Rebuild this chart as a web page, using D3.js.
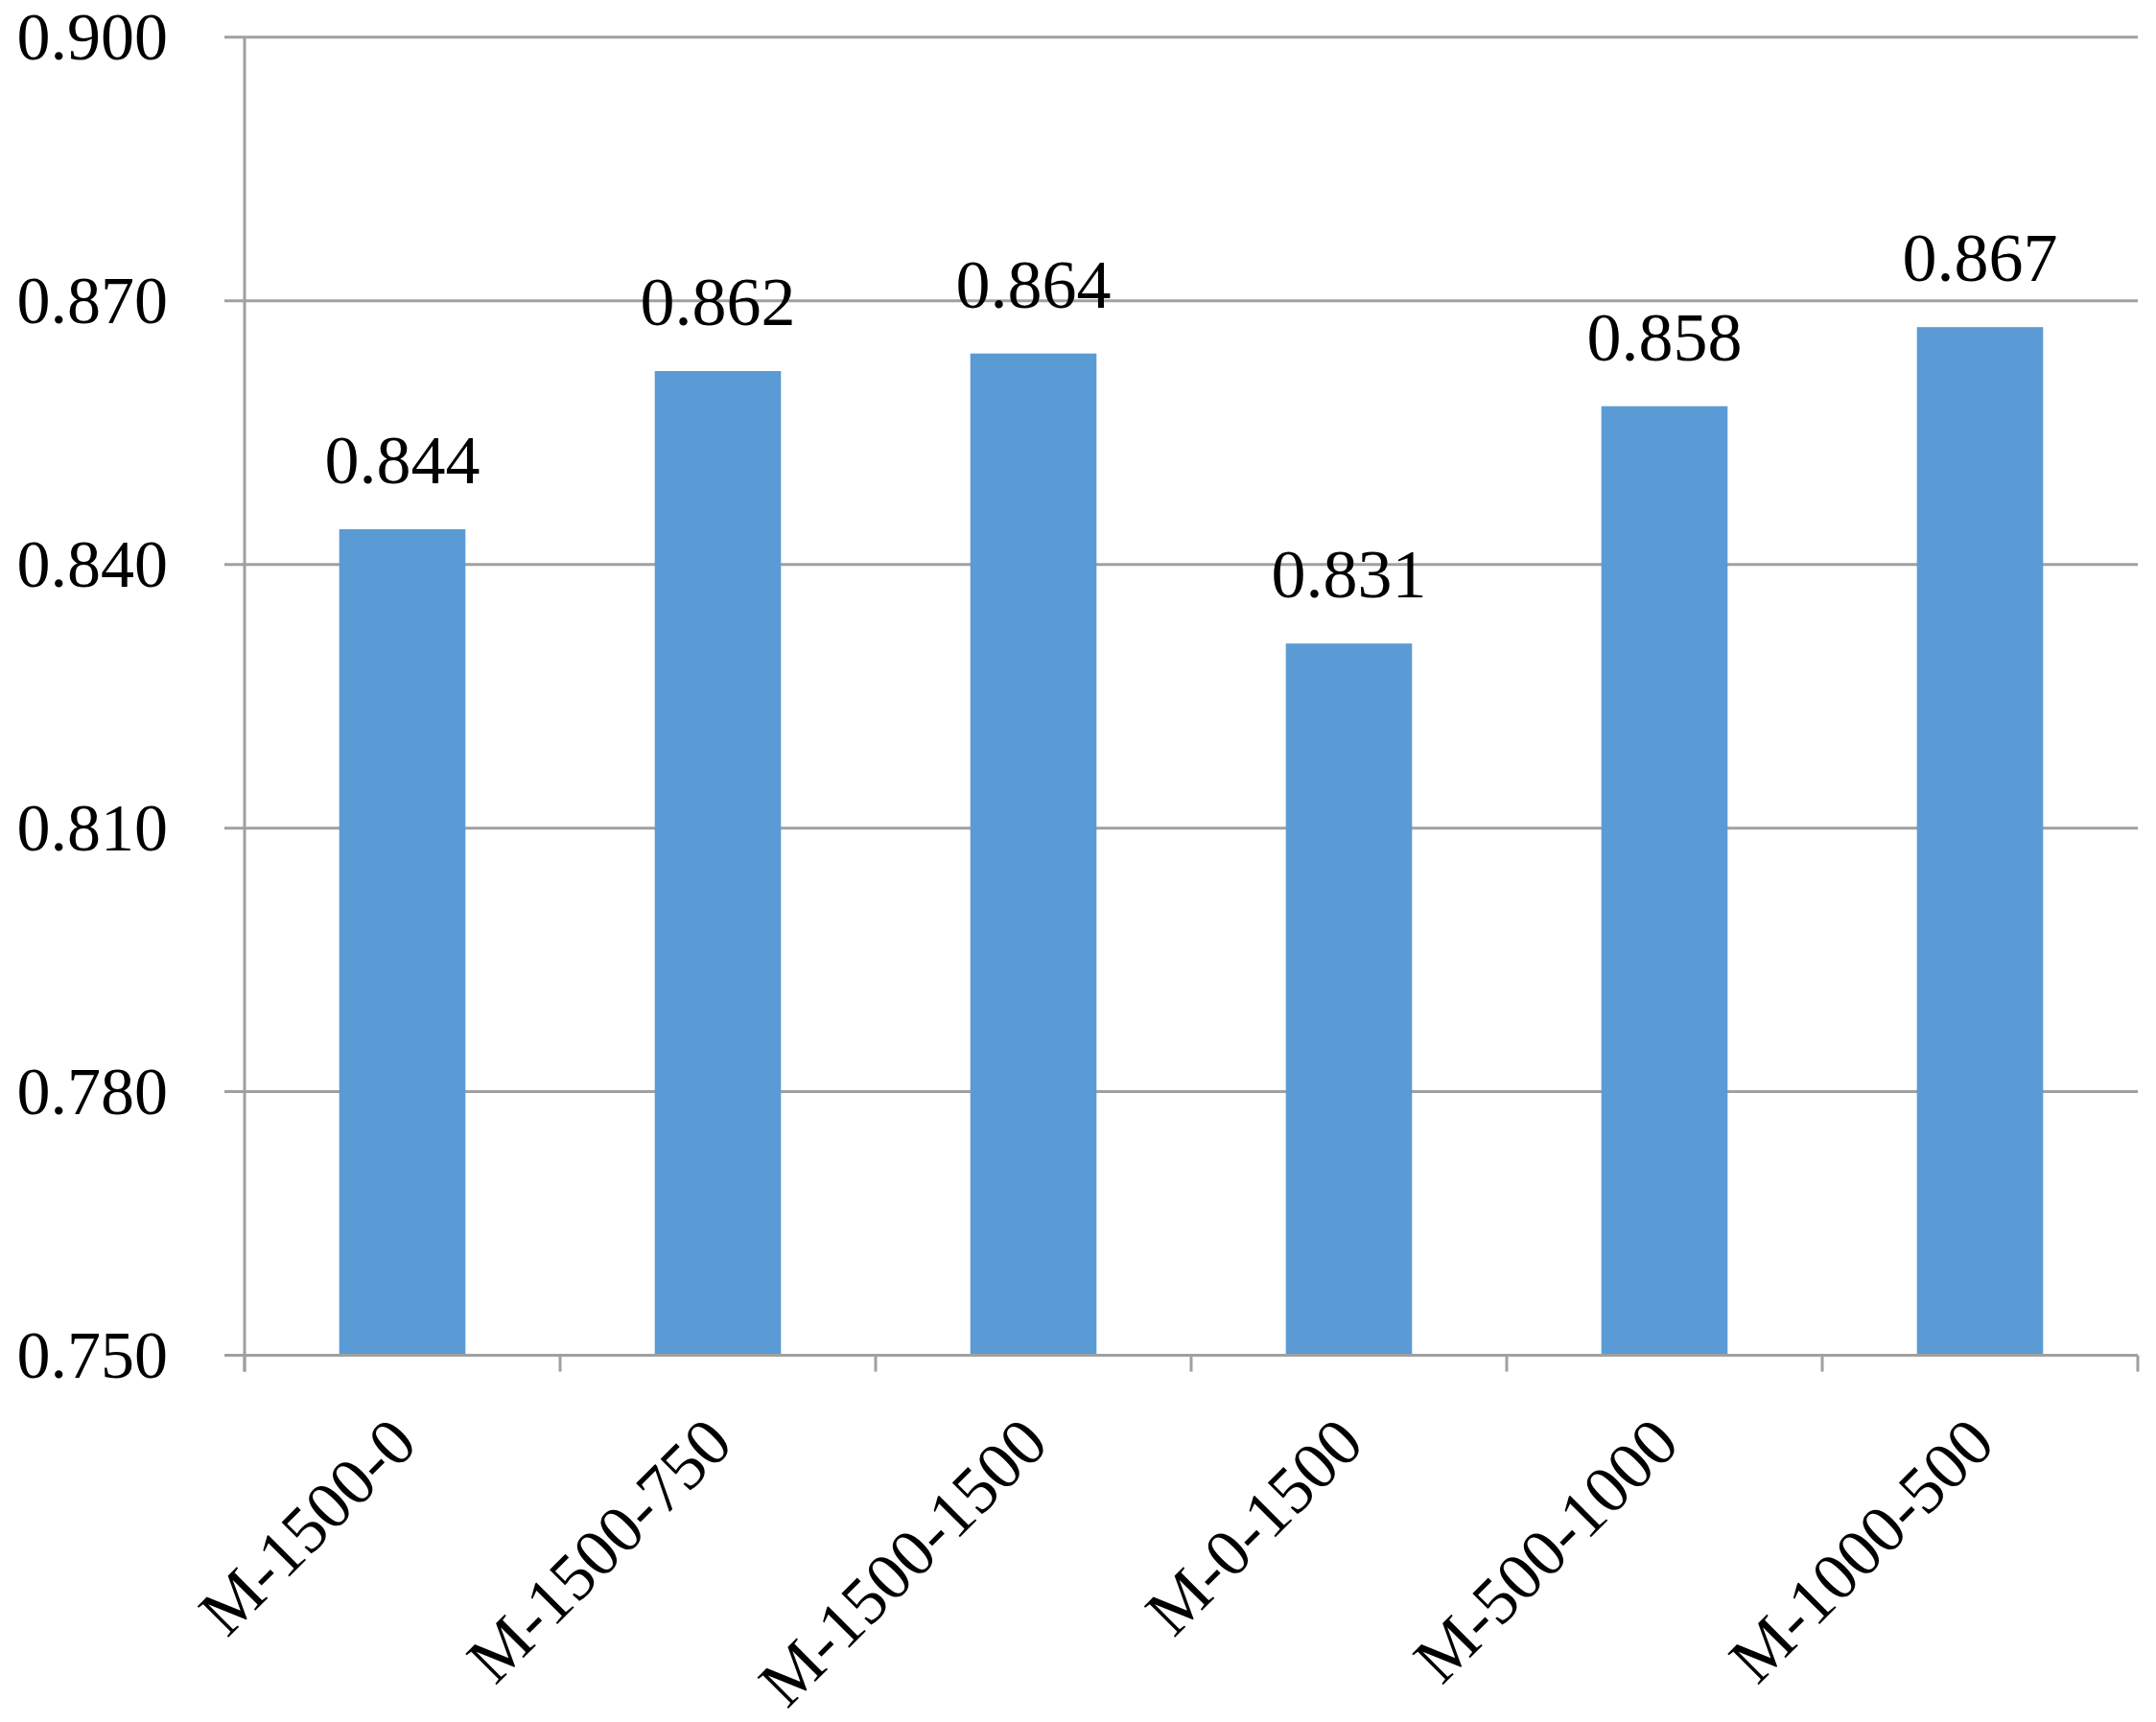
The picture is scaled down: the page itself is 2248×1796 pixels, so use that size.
<!DOCTYPE html>
<html>
<head>
<meta charset="utf-8">
<script src="https://cdn.jsdelivr.net/npm/d3@7"></script>
<style>
  html, body { margin: 0; padding: 0; background: #fff; }
  svg text { font-family: "Liberation Serif", "Times New Roman", serif; fill: #000; }
</style>
</head>
<body>
<svg id="chart" width="2248" height="1796"></svg>
<script>
const categories = ["M-1500-0", "M-1500-750", "M-1500-1500", "M-0-1500", "M-500-1000", "M-1000-500"];
const values = [0.844, 0.862, 0.864, 0.831, 0.858, 0.867];
const yTicks = [0.750, 0.780, 0.810, 0.840, 0.870, 0.900];

const svg = d3.select("#chart");
const margin = { left: 255, right: 2229, top: 38.7, bottom: 1413.6 };

const x = d3.scaleBand().domain(categories).range([margin.left, margin.right]).paddingInner(0.6).paddingOuter(0.3);
const y = d3.scaleLinear().domain([0.75, 0.90]).range([margin.bottom, margin.top]);

const gridColor = "#a0a0a0";

// gridlines
svg.append("g").selectAll("line").data(yTicks).join("line")
  .attr("x1", margin.left - 21).attr("x2", margin.right)
  .attr("y1", d => y(d)).attr("y2", d => y(d))
  .attr("stroke", gridColor).attr("stroke-width", 3);

// y axis line
svg.append("line")
  .attr("x1", margin.left).attr("x2", margin.left)
  .attr("y1", y(0.90)).attr("y2", y(0.75) + 17)
  .attr("stroke", gridColor).attr("stroke-width", 3);

// y tick labels
svg.append("g").selectAll("text").data(yTicks).join("text")
  .attr("x", 175).attr("y", d => y(d))
  .attr("text-anchor", "end").attr("dominant-baseline", "central")
  .attr("font-size", 70)
  .text(d => d3.format(".3f")(d));

// bars
svg.append("g").selectAll("rect").data(values).join("rect")
  .attr("x", (d, i) => x(categories[i]))
  .attr("width", x.bandwidth())
  .attr("y", d => y(d))
  .attr("height", d => y(0.75) - y(d))
  .attr("fill", "#5b9bd5");

// x axis line (drawn over bars)
svg.append("line")
  .attr("x1", margin.left).attr("x2", margin.right)
  .attr("y1", y(0.75)).attr("y2", y(0.75))
  .attr("stroke", gridColor).attr("stroke-width", 3);

// x ticks at category boundaries
const step = (margin.right - margin.left) / categories.length;
const tickXs = d3.range(categories.length + 1).map(i => margin.left + i * step);
svg.append("g").selectAll("line").data(tickXs).join("line")
  .attr("x1", d => d).attr("x2", d => d)
  .attr("y1", y(0.75)).attr("y2", y(0.75) + 17)
  .attr("stroke", gridColor).attr("stroke-width", 3);

// data labels
svg.append("g").selectAll("text").data(values).join("text")
  .attr("x", (d, i) => x(categories[i]) + x.bandwidth() / 2)
  .attr("y", d => y(d) - 48)
  .attr("text-anchor", "middle")
  .attr("font-size", 72)
  .text(d => d3.format(".3f")(d));

// x labels rotated
svg.append("g").selectAll("text").data(categories).join("text")
  .attr("transform", d => `translate(${x(d) + x.bandwidth() / 2 + 18},${y(0.75) + 95}) rotate(-45)`)
  .attr("text-anchor", "end")
  .attr("font-size", 70)
  .text(d => d);
</script>
</body>
</html>
